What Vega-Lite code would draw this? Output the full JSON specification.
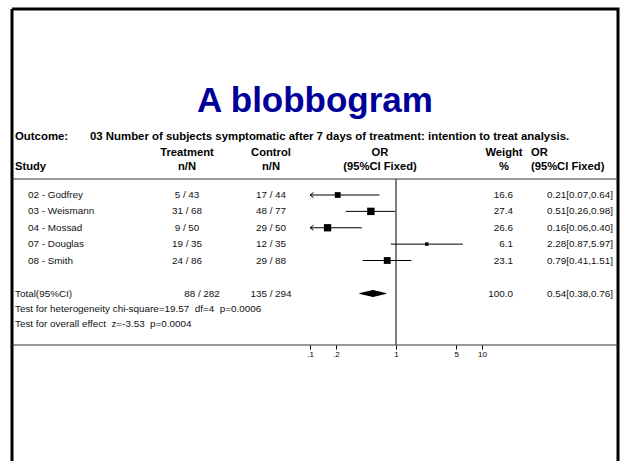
{
  "$schema": "https://vega.github.io/schema/vega-lite/v6.json",
  "width": 606,
  "height": 452,
  "autosize": "none",
  "padding": {"left": 12, "top": 9, "right": 4, "bottom": 0},
  "background": "white",
  "config": {
    "view": {"stroke": "black", "strokeWidth": 3, "strokeDash": [1058, 606, 452, 0]},
    "text": {"font": "Liberation Sans", "color": "#111"}
  },
  "datasets": {
    "cells": [
      {"row": 0, "text": "A blobbogram"},
      {"row": 1, "col": 0, "text": "Outcome:"},
      {"row": 1, "col": 2, "text": "03 Number of subjects symptomatic after 7 days of treatment: intention to treat analysis."},
      {"row": 2, "col": 3, "text": "Treatment"},
      {"row": 2, "col": 5, "text": "Control"},
      {"row": 2, "col": 6, "text": "OR"},
      {"row": 2, "col": 7, "text": "Weight"},
      {"row": 2, "col": 9, "text": "OR"},
      {"row": 3, "col": 0, "text": "Study"},
      {"row": 3, "col": 3, "text": "n/N"},
      {"row": 3, "col": 5, "text": "n/N"},
      {"row": 3, "col": 6, "text": "(95%CI Fixed)"},
      {"row": 3, "col": 7, "text": "%"},
      {"row": 3, "col": 9, "text": "(95%CI Fixed)"},
      {"row": 5, "col": 1, "text": "02 - Godfrey"},
      {"row": 5, "col": 3, "text": "5 / 43"},
      {"row": 5, "col": 5, "text": "17 / 44"},
      {"row": 5, "col": 8, "text": "16.6"},
      {"row": 5, "col": 10, "text": "0.21[0.07,0.64]"},
      {"row": 6, "col": 1, "text": "03 - Weismann"},
      {"row": 6, "col": 3, "text": "31 / 68"},
      {"row": 6, "col": 5, "text": "48 / 77"},
      {"row": 6, "col": 8, "text": "27.4"},
      {"row": 6, "col": 10, "text": "0.51[0.26,0.98]"},
      {"row": 7, "col": 1, "text": "04 - Mossad"},
      {"row": 7, "col": 3, "text": "9 / 50"},
      {"row": 7, "col": 5, "text": "29 / 50"},
      {"row": 7, "col": 8, "text": "26.6"},
      {"row": 7, "col": 10, "text": "0.16[0.06,0.40]"},
      {"row": 8, "col": 1, "text": "07 - Douglas"},
      {"row": 8, "col": 3, "text": "19 / 35"},
      {"row": 8, "col": 5, "text": "12 / 35"},
      {"row": 8, "col": 8, "text": "6.1"},
      {"row": 8, "col": 10, "text": "2.28[0.87,5.97]"},
      {"row": 9, "col": 1, "text": "08 - Smith"},
      {"row": 9, "col": 3, "text": "24 / 86"},
      {"row": 9, "col": 5, "text": "29 / 88"},
      {"row": 9, "col": 8, "text": "23.1"},
      {"row": 9, "col": 10, "text": "0.79[0.41,1.51]"},
      {"row": 11, "col": 0, "text": "Total(95%CI)"},
      {"row": 11, "col": 4, "text": "88 / 282"},
      {"row": 11, "col": 5, "text": "135 / 294"},
      {"row": 11, "col": 8, "text": "100.0"},
      {"row": 11, "col": 10, "text": "0.54[0.38,0.76]"},
      {"row": 12, "col": 0, "text": "Test for heterogeneity chi-square=19.57\u00a0 df=4\u00a0 p=0.0006"},
      {"row": 13, "col": 0, "text": "Test for overall effect\u00a0 z=-3.53\u00a0 p=0.0004"}
    ],
    "forest": [
      {"row": 5, "study": "02 - Godfrey", "or": 0.21, "lo": 0.07, "hi": 0.64, "weight": 16.6},
      {"row": 6, "study": "03 - Weismann", "or": 0.51, "lo": 0.26, "hi": 0.98, "weight": 27.4},
      {"row": 7, "study": "04 - Mossad", "or": 0.16, "lo": 0.06, "hi": 0.40, "weight": 26.6},
      {"row": 8, "study": "07 - Douglas", "or": 2.28, "lo": 0.87, "hi": 5.97, "weight": 6.1},
      {"row": 9, "study": "08 - Smith", "or": 0.79, "lo": 0.41, "hi": 1.51, "weight": 23.1}
    ],
    "total": [
      {"row": 11, "or": 0.54, "lo": 0.38, "hi": 0.76}
    ]
  },
  "layer": [
    {
      "data": {"name": "cells"},
      "layer": [
        {
          "transform": [{"filter": "datum.row == 0"}],
          "mark": {"type": "text", "font": "Liberation Sans", "fontWeight": "bold", "fontSize": 35, "color": "#000099", "align": "center", "baseline": "middle"},
          "encoding": {
            "y": {"field": "row", "type": "quantitative", "axis": null, "scale": {"domain": [0, 1, 2, 3, 4, 5, 9, 11, 13, 14], "range": [92, 128, 144, 158, 170, 186, 251.5, 284.5, 315, 336], "nice": false, "zero": false}},
            "text": {"field": "text"}
          }
        },
        {
          "transform": [{"filter": "datum.row == 1"}],
          "mark": {"type": "text", "font": "Liberation Sans", "fontWeight": "bold", "fontSize": 11.4, "color": "#000", "align": "left", "baseline": "middle"},
          "encoding": {
            "x": {"field": "col", "type": "quantitative", "axis": null, "scale": {"domain": [0, 1, 2, 3, 4, 5, 6, 7, 8, 9, 10], "range": [3, 16, 78, 175, 190, 259, 368, 492, 501, 519, 601], "nice": false, "zero": false}},
            "y": {"field": "row", "type": "quantitative", "axis": null, "scale": {"domain": [0, 1, 2, 3, 4, 5, 9, 11, 13, 14], "range": [92, 128, 144, 158, 170, 186, 251.5, 284.5, 315, 336], "nice": false, "zero": false}},
            "text": {"field": "text"}
          }
        },
        {
          "transform": [{"filter": "(datum.row == 2 || datum.row == 3) && datum.col >= 3 && datum.col <= 7"}],
          "mark": {"type": "text", "fontWeight": "bold", "fontSize": 11.2, "color": "#000", "align": "center", "baseline": "middle"},
          "encoding": {
            "x": {"field": "col", "type": "quantitative", "axis": null, "scale": {"domain": [0, 1, 2, 3, 4, 5, 6, 7, 8, 9, 10], "range": [3, 16, 78, 175, 190, 259, 368, 492, 501, 519, 601], "nice": false, "zero": false}},
            "y": {"field": "row", "type": "quantitative", "axis": null, "scale": {"domain": [0, 1, 2, 3, 4, 5, 9, 11, 13, 14], "range": [92, 128, 144, 158, 170, 186, 251.5, 284.5, 315, 336], "nice": false, "zero": false}},
            "text": {"field": "text"}
          }
        },
        {
          "transform": [{"filter": "(datum.row == 2 || datum.row == 3) && (datum.col == 0 || datum.col == 9)"}],
          "mark": {"type": "text", "fontWeight": "bold", "fontSize": 11.2, "color": "#000", "align": "left", "baseline": "middle"},
          "encoding": {
            "x": {"field": "col", "type": "quantitative", "axis": null, "scale": {"domain": [0, 1, 2, 3, 4, 5, 6, 7, 8, 9, 10], "range": [3, 16, 78, 175, 190, 259, 368, 492, 501, 519, 601], "nice": false, "zero": false}},
            "y": {"field": "row", "type": "quantitative", "axis": null, "scale": {"domain": [0, 1, 2, 3, 4, 5, 9, 11, 13, 14], "range": [92, 128, 144, 158, 170, 186, 251.5, 284.5, 315, 336], "nice": false, "zero": false}},
            "text": {"field": "text"}
          }
        },
        {
          "transform": [{"filter": "datum.row >= 5 && datum.col <= 2"}],
          "mark": {"type": "text", "fontSize": 9.9, "align": "left", "baseline": "middle"},
          "encoding": {
            "x": {"field": "col", "type": "quantitative", "axis": null, "scale": {"domain": [0, 1, 2, 3, 4, 5, 6, 7, 8, 9, 10], "range": [3, 16, 78, 175, 190, 259, 368, 492, 501, 519, 601], "nice": false, "zero": false}},
            "y": {"field": "row", "type": "quantitative", "axis": null, "scale": {"domain": [0, 1, 2, 3, 4, 5, 9, 11, 13, 14], "range": [92, 128, 144, 158, 170, 186, 251.5, 284.5, 315, 336], "nice": false, "zero": false}},
            "text": {"field": "text"}
          }
        },
        {
          "transform": [{"filter": "datum.row >= 5 && datum.col >= 3 && datum.col <= 7"}],
          "mark": {"type": "text", "fontSize": 9.9, "align": "center", "baseline": "middle"},
          "encoding": {
            "x": {"field": "col", "type": "quantitative", "axis": null, "scale": {"domain": [0, 1, 2, 3, 4, 5, 6, 7, 8, 9, 10], "range": [3, 16, 78, 175, 190, 259, 368, 492, 501, 519, 601], "nice": false, "zero": false}},
            "y": {"field": "row", "type": "quantitative", "axis": null, "scale": {"domain": [0, 1, 2, 3, 4, 5, 9, 11, 13, 14], "range": [92, 128, 144, 158, 170, 186, 251.5, 284.5, 315, 336], "nice": false, "zero": false}},
            "text": {"field": "text"}
          }
        },
        {
          "transform": [{"filter": "datum.row >= 5 && (datum.col == 8 || datum.col == 10)"}],
          "mark": {"type": "text", "fontSize": 9.9, "align": "right", "baseline": "middle"},
          "encoding": {
            "x": {"field": "col", "type": "quantitative", "axis": null, "scale": {"domain": [0, 1, 2, 3, 4, 5, 6, 7, 8, 9, 10], "range": [3, 16, 78, 175, 190, 259, 368, 492, 501, 519, 601], "nice": false, "zero": false}},
            "y": {"field": "row", "type": "quantitative", "axis": null, "scale": {"domain": [0, 1, 2, 3, 4, 5, 9, 11, 13, 14], "range": [92, 128, 144, 158, 170, 186, 251.5, 284.5, 315, 336], "nice": false, "zero": false}},
            "text": {"field": "text"}
          }
        }
      ]
    },
    {
      "layer": [
        {
          "data": {"values": [{}]},
          "mark": {"type": "rule", "color": "#333", "strokeWidth": 1.2},
          "encoding": {
            "y": {"datum": 4, "type": "quantitative", "axis": null, "scale": {"domain": [0, 1, 2, 3, 4, 5, 9, 11, 13, 14], "range": [92, 128, 144, 158, 170, 186, 251.5, 284.5, 315, 336], "nice": false, "zero": false}}
          }
        },
        {
          "data": {"values": [{}]},
          "mark": {"type": "rule", "color": "#333", "strokeWidth": 1.2},
          "encoding": {
            "y": {"datum": 14, "type": "quantitative", "axis": null, "scale": {"domain": [0, 1, 2, 3, 4, 5, 9, 11, 13, 14], "range": [92, 128, 144, 158, 170, 186, 251.5, 284.5, 315, 336], "nice": false, "zero": false}}
          }
        },
        {
          "data": {"values": [{}]},
          "mark": {"type": "rule", "color": "#555", "strokeWidth": 1.5},
          "encoding": {
            "x": {"datum": 1, "type": "quantitative", "scale": {"type": "log", "domain": [0.1, 10], "range": [298, 470], "clamp": true, "nice": false}, "axis": {"orient": "bottom", "offset": -116, "values": [0.1, 0.2, 1, 5, 10], "labelExpr": "replace(toString(datum.value), '0.', '.')", "domain": false, "grid": false, "ticks": true, "tickSize": 4, "tickColor": "#000", "tickWidth": 1, "labelFont": "Liberation Sans", "labelFontSize": 8, "labelColor": "#000", "labelPadding": 1, "labelFlush": false, "labelOverlap": false, "title": null}},
            "y": {"datum": 4, "type": "quantitative", "axis": null, "scale": {"domain": [0, 1, 2, 3, 4, 5, 9, 11, 13, 14], "range": [92, 128, 144, 158, 170, 186, 251.5, 284.5, 315, 336], "nice": false, "zero": false}},
            "y2": {"datum": 14}
          }
        },
        {
          "data": {"name": "forest"},
          "mark": {"type": "rule", "color": "#000", "strokeWidth": 1},
          "encoding": {
            "x": {"field": "lo", "type": "quantitative", "scale": {"type": "log", "domain": [0.1, 10], "range": [298, 470], "clamp": true, "nice": false}, "axis": {"orient": "bottom", "offset": -116, "values": [0.1, 0.2, 1, 5, 10], "labelExpr": "replace(toString(datum.value), '0.', '.')", "domain": false, "grid": false, "ticks": true, "tickSize": 4, "tickColor": "#000", "tickWidth": 1, "labelFont": "Liberation Sans", "labelFontSize": 8, "labelColor": "#000", "labelPadding": 1, "labelFlush": false, "labelOverlap": false, "title": null}},
            "x2": {"field": "hi"},
            "y": {"field": "row", "type": "quantitative", "axis": null, "scale": {"domain": [0, 1, 2, 3, 4, 5, 9, 11, 13, 14], "range": [92, 128, 144, 158, 170, 186, 251.5, 284.5, 315, 336], "nice": false, "zero": false}}
          }
        },
        {
          "data": {"name": "forest"},
          "transform": [{"filter": "datum.lo < 0.1"}],
          "mark": {"type": "point", "shape": "M1.2,-0.85L0,0L1.2,0.85", "filled": false, "stroke": "#000", "strokeWidth": 1, "size": 34, "opacity": 1},
          "encoding": {
            "x": {"field": "lo", "type": "quantitative", "scale": {"type": "log", "domain": [0.1, 10], "range": [298, 470], "clamp": true, "nice": false}, "axis": {"orient": "bottom", "offset": -116, "values": [0.1, 0.2, 1, 5, 10], "labelExpr": "replace(toString(datum.value), '0.', '.')", "domain": false, "grid": false, "ticks": true, "tickSize": 4, "tickColor": "#000", "tickWidth": 1, "labelFont": "Liberation Sans", "labelFontSize": 8, "labelColor": "#000", "labelPadding": 1, "labelFlush": false, "labelOverlap": false, "title": null}},
            "y": {"field": "row", "type": "quantitative", "axis": null, "scale": {"domain": [0, 1, 2, 3, 4, 5, 9, 11, 13, 14], "range": [92, 128, 144, 158, 170, 186, 251.5, 284.5, 315, 336], "nice": false, "zero": false}}
          }
        },
        {
          "data": {"name": "forest"},
          "mark": {"type": "square", "filled": true, "color": "#000", "opacity": 1},
          "encoding": {
            "x": {"field": "or", "type": "quantitative", "scale": {"type": "log", "domain": [0.1, 10], "range": [298, 470], "clamp": true, "nice": false}, "axis": {"orient": "bottom", "offset": -116, "values": [0.1, 0.2, 1, 5, 10], "labelExpr": "replace(toString(datum.value), '0.', '.')", "domain": false, "grid": false, "ticks": true, "tickSize": 4, "tickColor": "#000", "tickWidth": 1, "labelFont": "Liberation Sans", "labelFontSize": 8, "labelColor": "#000", "labelPadding": 1, "labelFlush": false, "labelOverlap": false, "title": null}},
            "y": {"field": "row", "type": "quantitative", "axis": null, "scale": {"domain": [0, 1, 2, 3, 4, 5, 9, 11, 13, 14], "range": [92, 128, 144, 158, 170, 186, 251.5, 284.5, 315, 336], "nice": false, "zero": false}},
            "size": {"field": "weight", "type": "quantitative", "scale": {"domain": [0, 30], "range": [0, 60], "zero": true}, "legend": null}
          }
        },
        {
          "data": {"name": "total"},
          "transform": [{"fold": ["lo", "or", "hi"], "as": ["bound", "value"]}],
          "mark": {"type": "trail", "color": "#000", "opacity": 1},
          "encoding": {
            "x": {"field": "value", "type": "quantitative", "scale": {"type": "log", "domain": [0.1, 10], "range": [298, 470], "clamp": true, "nice": false}, "axis": {"orient": "bottom", "offset": -116, "values": [0.1, 0.2, 1, 5, 10], "labelExpr": "replace(toString(datum.value), '0.', '.')", "domain": false, "grid": false, "ticks": true, "tickSize": 4, "tickColor": "#000", "tickWidth": 1, "labelFont": "Liberation Sans", "labelFontSize": 8, "labelColor": "#000", "labelPadding": 1, "labelFlush": false, "labelOverlap": false, "title": null}},
            "y": {"field": "row", "type": "quantitative", "axis": null, "scale": {"domain": [0, 1, 2, 3, 4, 5, 9, 11, 13, 14], "range": [92, 128, 144, 158, 170, 186, 251.5, 284.5, 315, 336], "nice": false, "zero": false}},
            "size": {"field": "bound", "type": "ordinal", "scale": {"type": "ordinal", "domain": ["lo", "or", "hi"], "range": [0, 7, 0]}, "legend": null}
          }
        }
      ],
      "resolve": {"scale": {"size": "independent"}}
    }
  ],
  "resolve": {"scale": {"x": "independent"}}
}
